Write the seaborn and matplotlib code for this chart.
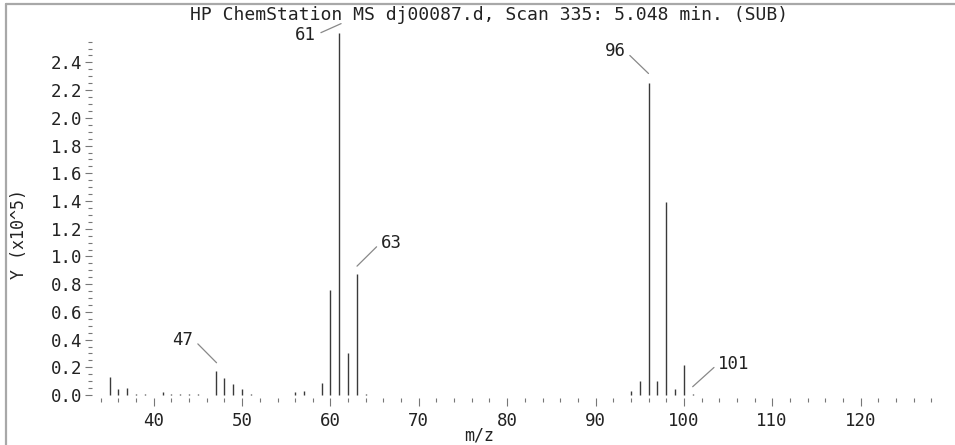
import numpy as np
import pandas as pd
import matplotlib
matplotlib.use("Agg")
import matplotlib.pyplot as plt
from matplotlib.lines import Line2D
from matplotlib.ticker import MultipleLocator, FixedLocator
import seaborn as sns

# ---- data (intensity in units of 10^5) ----
mz = [35, 36, 37, 38, 39, 41, 42, 43, 44, 45, 47, 48, 49, 50, 51, 56, 57, 59,
      60, 61, 62, 63, 64, 94, 95, 96, 97, 98, 99, 100, 101]
intensity = [0.13, 0.04, 0.05, 0.01, 0.01, 0.02, 0.01, 0.01, 0.01, 0.005,
             0.17, 0.12, 0.08, 0.04, 0.01, 0.02, 0.03, 0.09,
             0.76, 2.61, 0.30, 0.87, 0.01, 0.03, 0.10, 2.25, 0.10, 1.39,
             0.04, 0.22, 0.005]
# labelled peaks
label_text = ["61", "63", "47", "96", "101"]
label_mz = [61.2, 63.0, 47.1, 96.0, 101.0]
label_end_y = [2.68, 0.93, 0.233, 2.32, 0.06]
label_tx = [58.4, 65.7, 44.5, 93.4, 103.9]
label_ty = [2.60, 1.10, 0.40, 2.48, 0.227]
label_side = ["right", "left", "right", "right", "left"]

title = "HP ChemStation MS dj00087.d, Scan 335: 5.048 min. (SUB)"
xlabel = "m/z"
ylabel = "Y (x10^5)"

df = pd.DataFrame({"mz": mz, "y": intensity})

sns.set_theme(style="white")
plt.rcParams["font.family"] = ["DejaVu Sans Mono", "DejaVu Sans"]

W, H = 955, 445
fig = plt.figure(figsize=(W / 100, H / 100), dpi=100)
fig.patch.set_facecolor("white")

left, right = 92 / W, 940 / W
bottom, top = 1 - 397.8 / H, 1 - 25 / H
ax = fig.add_axes([left, bottom, right - left, top - bottom])
ax.set_facecolor("white")

ax.vlines(df["mz"], 0, df["y"], colors="#3a3a3a", linewidth=1.0)

ax.set_xlim(33, 129)
ax.set_ylim(-0.02, 2.67)

for s in ax.spines.values():
    s.set_visible(False)

ax.xaxis.set_major_locator(MultipleLocator(10))
ax.xaxis.set_minor_locator(MultipleLocator(2))
ax.yaxis.set_major_locator(FixedLocator(np.round(np.arange(0, 2.41, 0.2), 2)))
ax.yaxis.set_minor_locator(FixedLocator(np.round(np.arange(0, 2.56, 0.05), 2)))
ax.yaxis.set_major_formatter(matplotlib.ticker.FormatStrFormatter("%.1f"))

ax.tick_params(axis="x", which="major", direction="out", length=6, width=0.8,
               color="#777777", labelsize=12.5, labelcolor="#222222", pad=4,
               bottom=True)
ax.tick_params(axis="x", which="minor", direction="out", length=3, width=0.8,
               color="#777777", bottom=True)
ax.tick_params(axis="y", which="major", direction="out", length=5, width=0.8,
               color="#777777", labelsize=12.5, labelcolor="#222222", pad=2,
               left=True)
ax.tick_params(axis="y", which="minor", direction="out", length=3, width=0.8,
               color="#777777", left=True)

ax.set_xlabel(xlabel, fontsize=12, color="#222222")
ax.xaxis.set_label_coords((479.5 - 92) / 848, (397.8 - 435) / 372.8)
ax.xaxis.label.set_va("center")
ax.set_ylabel(ylabel, fontsize=12, color="#222222")
ax.yaxis.set_label_coords((19 - 92) / 848, (397.8 - 234) / 372.8)
ax.yaxis.label.set_va("center")

fig.text(489 / W, 1 - 15 / H, title, ha="center", va="center",
         fontsize=13, color="#222222")

for t, px, ey, tx, ty, side in zip(label_text, label_mz, label_end_y,
                                   label_tx, label_ty, label_side):
    ax.annotate(t, xy=(px, ey), xytext=(tx, ty), ha=side, va="center",
                fontsize=12.5, color="#222222", annotation_clip=False,
                arrowprops=dict(arrowstyle="-", color="#888888", lw=0.9,
                                shrinkA=1, shrinkB=0,
                                relpos=(1, 0.5) if side == "right" else (0, 0.5)))

# figure border (left and top)
fig.add_artist(Line2D([6 / W, 6 / W], [0, 1 - 4 / H], transform=fig.transFigure,
                      color="#a8a8a8", lw=1.6))
fig.add_artist(Line2D([6 / W, 1], [1 - 4 / H, 1 - 4 / H], transform=fig.transFigure,
                      color="#a8a8a8", lw=1.6))

fig.savefig("out.png", dpi=100, facecolor="white")
